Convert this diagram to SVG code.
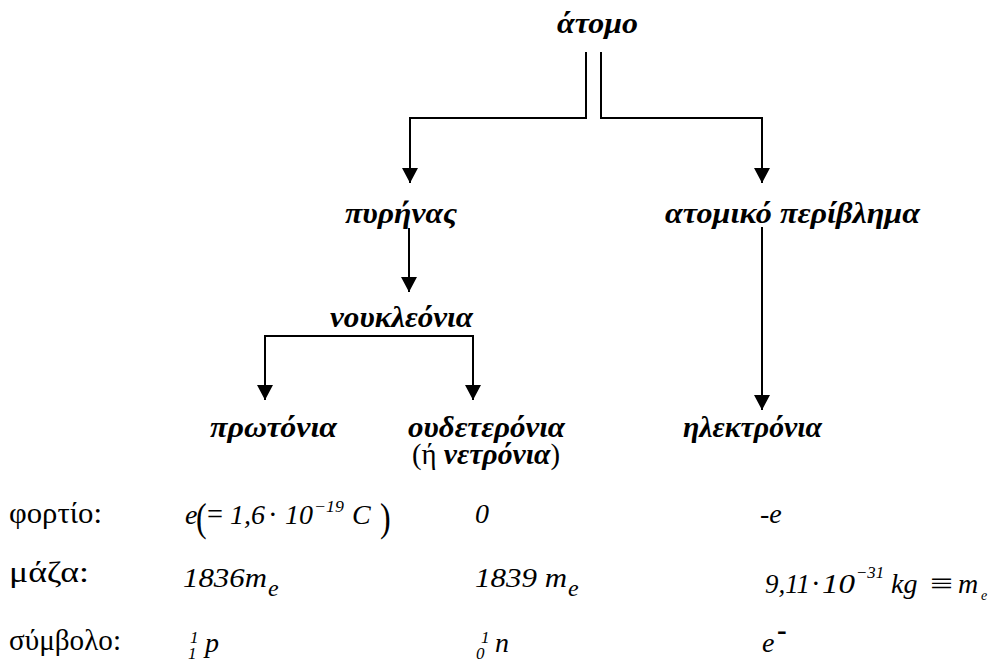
<svg xmlns="http://www.w3.org/2000/svg" width="989" height="666" viewBox="0 0 989 666" font-family="'Liberation Serif', Tinos, 'Noto Serif', 'DejaVu Serif', FreeSerif, 'Times New Roman', Times, serif">
<style>
.h{font-size:30px;font-weight:bold;font-style:italic}
.r{font-size:29px;font-weight:normal;font-style:normal}
.m{font-size:28px;font-style:italic}
.s{font-size:17px;font-style:italic}
.ln{fill:none;stroke:#000;stroke-width:2}
</style>
<defs>
<marker id="ah" markerUnits="userSpaceOnUse" markerWidth="16" markerHeight="16" refX="15" refY="8" orient="auto" viewBox="0 0 16 16">
<path d="M0,0 L15,8 L0,16 z" fill="#000"/>
</marker>
</defs>
<rect width="989" height="666" fill="#fff"/>
<g id="connectors">
<path class="ln" d="M586,52 V118 H410 V183" marker-end="url(#ah)"/>
<path class="ln" d="M601,52 V118 H762 V183" marker-end="url(#ah)"/>
<path class="ln" d="M409,228 V292" marker-end="url(#ah)"/>
<path class="ln" d="M265,400 V336 H473 V400" marker-end="url(#ah)"/>
<path class="ln" d="M265,336 V400" marker-end="url(#ah)"/>
<path class="ln" d="M762,227 V410" marker-end="url(#ah)"/>
</g>
<g id="atomo"><text class="h" x="557" y="33" textLength="81" lengthAdjust="spacingAndGlyphs">άτομο</text></g>
<g id="pyrinas"><text class="h" x="345" y="223" textLength="112" lengthAdjust="spacingAndGlyphs">πυρήνας</text></g>
<g id="perivlima"><text class="h" x="665" y="223" textLength="255" lengthAdjust="spacingAndGlyphs">ατομικό περίβλημα</text></g>
<g id="noukleonia"><text class="h" x="330" y="327" textLength="143" lengthAdjust="spacingAndGlyphs">νουκλεόνια</text></g>
<g id="protonia"><text class="h" x="210" y="437" textLength="127" lengthAdjust="spacingAndGlyphs">πρωτόνια</text></g>
<g id="oudeteronia"><text class="h" x="408" y="437" textLength="157" lengthAdjust="spacingAndGlyphs">ουδετερόνια</text><text class="h" x="412" y="464" textLength="148" lengthAdjust="spacingAndGlyphs"><tspan class="r">(ή </tspan>νετρόνια<tspan class="r">)</tspan></text></g>
<g id="ilektronia"><text class="h" x="683" y="437" textLength="139" lengthAdjust="spacingAndGlyphs">ηλεκτρόνια</text></g>
<g id="labels">
<text class="r" x="9" y="523" textLength="93" lengthAdjust="spacingAndGlyphs">φορτίο:</text>
<text class="r" x="9" y="582" textLength="80" lengthAdjust="spacingAndGlyphs">μάζα:</text>
<text class="r" x="9" y="650" textLength="112" lengthAdjust="spacingAndGlyphs">σύμβολο:</text>
</g>
<g id="charge">
<text class="m" x="185" y="524">e</text>
<text style="font-size:40px" transform="translate(196,531) scale(0.8,1)">(</text>
<text class="r" x="207" y="524" textLength="16" lengthAdjust="spacingAndGlyphs">=</text>
<text class="m" x="230" y="524" textLength="35" lengthAdjust="spacingAndGlyphs">1,6</text>
<text class="r" x="268" y="524">·</text>
<text class="m" x="285" y="524" textLength="28" lengthAdjust="spacingAndGlyphs">10</text>
<text class="s" x="314" y="512" textLength="30" lengthAdjust="spacingAndGlyphs">−19</text>
<text class="m" x="352" y="524">C</text>
<text style="font-size:40px" transform="translate(380,531) scale(0.8,1)">)</text>
<text class="m" x="475" y="523">0</text>
<text class="m" x="760" y="523">-e</text>
</g>
<g id="mass">
<text class="m" x="183" y="587" textLength="84" lengthAdjust="spacingAndGlyphs">1836m</text>
<text class="m" x="268" y="596" style="font-size:24px">e</text>
<text class="m" x="475" y="587" textLength="92" lengthAdjust="spacingAndGlyphs">1839 m</text>
<text class="m" x="568" y="596" style="font-size:24px">e</text>
<text class="m" x="765" y="593" textLength="45" lengthAdjust="spacingAndGlyphs">9,11</text>
<text class="r" x="811" y="593">·</text>
<text class="m" x="822" y="593" textLength="33" lengthAdjust="spacingAndGlyphs">10</text>
<text class="s" x="856" y="578" textLength="28" lengthAdjust="spacingAndGlyphs">−31</text>
<text class="m" x="891" y="593">kg</text>
<text class="r" x="930" y="593" textLength="23" lengthAdjust="spacingAndGlyphs">≡</text>
<text class="m" x="958" y="593">m</text>
<text class="s" x="981" y="600" style="font-size:14px">e</text>
</g>
<g id="symbol">
<text class="s" x="190" y="643">1</text>
<text class="s" x="188" y="659">1</text>
<text class="m" x="205" y="652">p</text>
<text class="s" x="481" y="643">1</text>
<text class="s" x="476" y="659">0</text>
<text class="m" x="495" y="652">n</text>
<text class="m" x="762" y="652">e</text>
<text class="r" x="777" y="640" style="font-weight:bold">-</text>
</g>
</svg>
